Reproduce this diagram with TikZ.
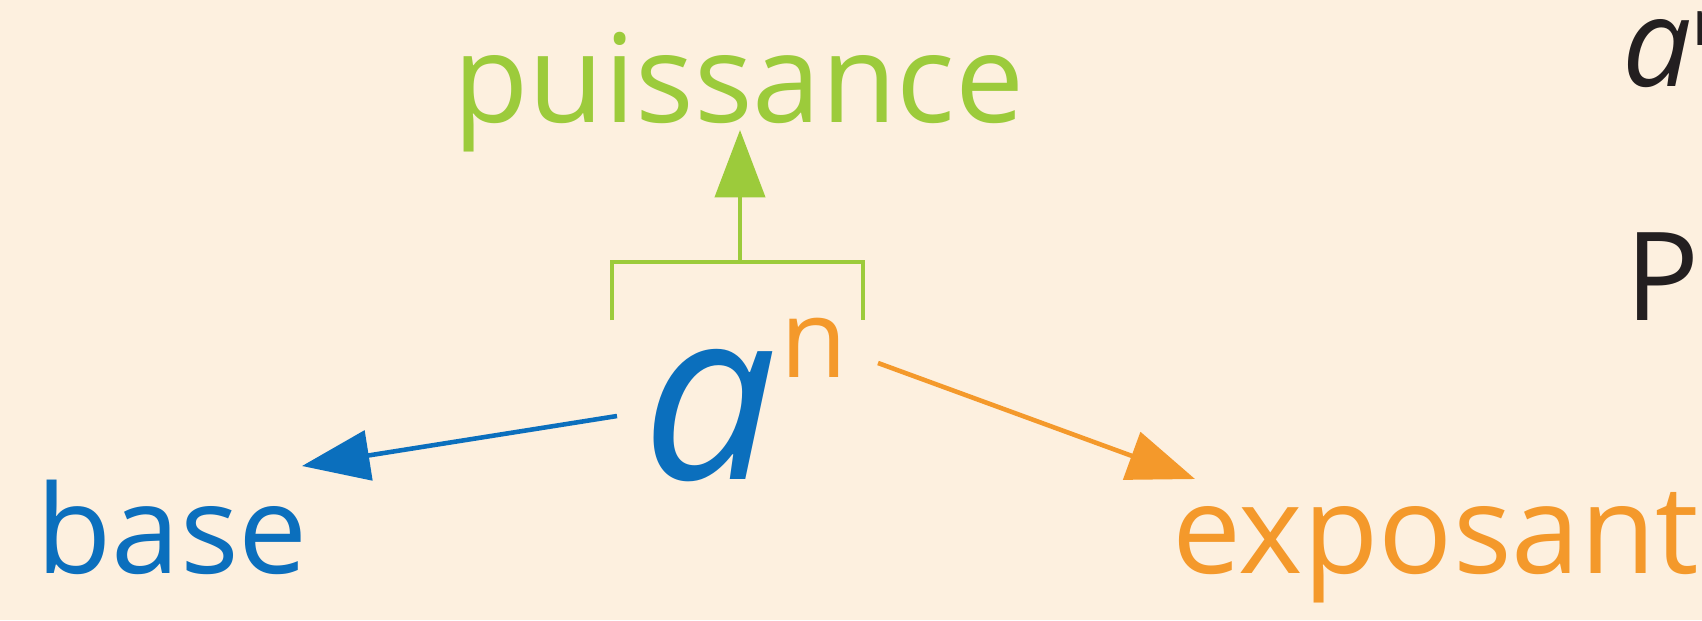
\documentclass[tikz,border=0pt]{standalone}
\usepackage{fontspec}
\setmainfont{Open Sans}
\usepackage{tikz}
\usetikzlibrary{arrows.meta,positioning,calc}
\definecolor{paper}{HTML}{FDF0DF}
\definecolor{basecol}{HTML}{0B6FBD}
\definecolor{powcol}{HTML}{9CCB3B}
\definecolor{expcol}{HTML}{F4992B}
\definecolor{ink}{HTML}{231F20}
\tikzset{
  word/.style={inner sep=0pt,anchor=base west,font=\fontsize{70}{72}\selectfont},
  bigvar/.style={inner sep=0pt,anchor=base west,text=basecol,font=\fontsize{136}{140}\selectfont\itshape},
  supvar/.style={inner sep=0pt,anchor=base west,text=expcol,font=\fontsize{62}{64}\selectfont},
  sidetxt/.style={inner sep=0pt,anchor=base west,text=ink,font=\fontsize{70}{72}\selectfont},
  arrow/.style={-{Triangle[length=1.35cm,width=1.0cm]},line width=2.6pt,color=#1},
  bracket/.style={line width=2.3pt,color=powcol},
}
\begin{document}
\begin{tikzpicture}[x=0.02cm,y=-0.02cm]
    \fill[paper] (0,0) rectangle (1702,620);
    \clip (0,0) rectangle (1702,620);
    % labels
    \node[word,text=powcol] (puiss) at (453,122) {puissance};
    \node[word,text=basecol] (base) at (36,573) {base};
    \node[word,text=expcol] (expo) at (1172,573) {exposant};
    % the power a^n
    \node[bigvar] (avar) at (642,479) {a};
    \node[supvar] (nvar) at (780,377) {n};
    % bracket over the power
    \coordinate (brl) at (612,320);
    \coordinate (brr) at (863,320);
    \coordinate (brtop) at (740,262);
    \draw[bracket] (brl) |- (brtop) -| (brr);
    \draw[arrow=powcol] (brtop) -- (740,130);
    % base and exponent arrows
    \coordinate (bstart) at (617,416);
    \coordinate (bend) at (302,466);
    \draw[arrow=basecol] (bstart) -- (bend);
    \coordinate (estart) at (878,363);
    \coordinate (eend) at (1195,479);
    \draw[arrow=expcol] (estart) -- (eend);
    % text cut off at the right
    \node[sidetxt,font=\fontsize{70}{72}\selectfont\itshape] (aside) at (1622,86) {a};
    \node[sidetxt,font=\fontsize{36}{38}\selectfont] (nside) at (1692,45) {n};
    \node[sidetxt] (pside) at (1625,320) {P};
\end{tikzpicture}
\end{document}
